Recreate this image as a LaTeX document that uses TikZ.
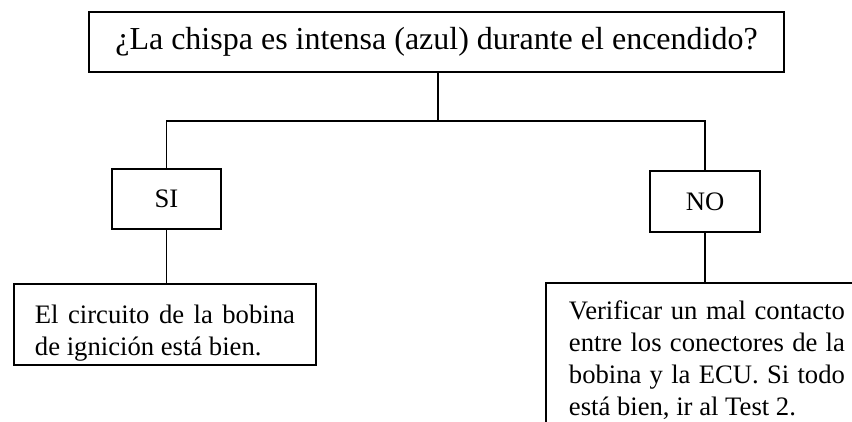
\documentclass[tikz,border=0pt]{standalone}
\usepackage{fontspec}
\setmainfont{Liberation Serif}
\begin{document}
\begin{tikzpicture}[x=0.75pt,y=-0.75pt,
  box/.style={draw=black, line width=1.4pt, fill=white},
  conn/.style={draw=black, line width=1.1pt},
  bodyfont/.style={font=\fontsize{20}{24}\selectfont},
  res/.style={box, bodyfont, align=justify, anchor=north west}]
\useasboundingbox (0,0) rectangle (852,421);
\clip (0,0) rectangle (852,421);
\fill[white] (0,0) rectangle (852,421);
\coordinate (j) at (438,121);
\node[box, minimum width=521.25pt, minimum height=45pt, inner sep=0pt,
  font=\fontsize{24}{28.8}\selectfont] (q) at (436.5,42)
  {¿La chispa es intensa (azul) durante el encendido?};
\node[box, bodyfont, minimum width=81.75pt, minimum height=45pt, inner sep=0pt] (si) at (166.5,199) {SI};
\node[box, bodyfont, minimum width=82.5pt, minimum height=45.75pt, inner sep=0pt] (no) at (705,201.5) {NO};
\node[res, minimum width=226.5pt, minimum height=60.75pt, text width=195pt,
  inner xsep=15.75pt, inner ysep=0pt] (r1) at (13,283)
  {\rule{0pt}{27pt}El circuito de la bobina\linebreak de ignición está bien.};
\node[res, text width=207pt, inner xsep=17.25pt, inner ysep=13.5pt] (r2) at (545,282)
  {Verificar un mal contacto\linebreak entre los conectores de la\linebreak bobina y la ECU. Si todo\linebreak está bien, ir al Test 2.};
\draw[conn] (q.south -| j) -- (j);
\draw[conn] (si.north) |- (j) -| (no.north);
\draw[conn] (si.south) -- (si.south |- r1.north);
\draw[conn] (no.south) -- (no.south |- r2.north);
\end{tikzpicture}
\end{document}
